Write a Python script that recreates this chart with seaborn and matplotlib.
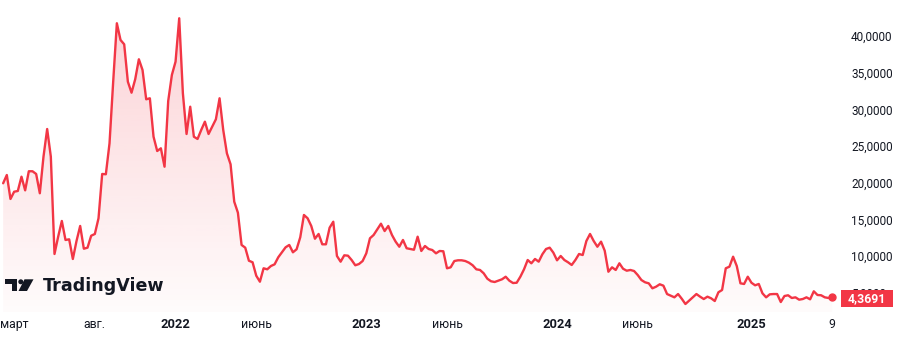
import numpy as np
import pandas as pd
import matplotlib
matplotlib.use("Agg")
import matplotlib.pyplot as plt
import matplotlib.dates as mdates
from matplotlib.colors import LinearSegmentedColormap
from matplotlib.patches import Polygon, Ellipse, Rectangle
from matplotlib.ticker import FuncFormatter
import seaborn as sns

# weekly closes, last bar dated 2025-06-09
last_date = "2025-06-09"
price = [
    19.91, 21.04, 17.77, 18.76, 18.86, 20.81, 18.95, 21.55, 21.55, 21.18,
    18.55, 23.54, 27.31, 23.54, 10.27, 12.63, 14.77, 12.18, 12.27, 9.59,
    12.04, 14.09, 10.99, 11.13, 12.76, 13.00, 15.14, 21.18, 21.14, 25.36,
    33.76, 41.73, 39.45, 38.86, 33.76, 32.26, 34.09, 36.82, 35.36, 31.36,
    31.50, 26.26, 24.31, 24.68, 22.17, 31.13, 34.68,
    36.49, 42.41, 32.18, 26.63, 30.35, 26.26, 25.95, 27.18, 28.31, 26.63,
    27.63, 28.64, 31.50, 27.18, 24.00, 22.50, 17.40, 15.90, 11.50, 11.13,
    9.35, 9.14, 7.31, 6.49, 8.32, 8.18, 8.63, 8.86, 9.82, 10.50,
    11.18, 11.50, 10.50, 10.91, 12.55, 15.59, 15.14, 14.09, 12.35, 13.00,
    11.59, 11.59, 13.85, 14.67,
    10.00, 9.22, 10.09, 10.04, 9.45, 8.73, 8.90, 9.31, 10.36, 12.41,
    12.86, 13.64, 14.40, 13.40, 14.09, 12.86, 11.95, 11.26, 12.18, 11.05,
    10.95, 10.85, 12.63, 10.68, 11.36, 10.95, 10.81, 10.36, 10.68, 10.64,
    8.32, 8.45, 9.31, 9.41, 9.41, 9.31, 9.08, 8.73, 8.18, 8.09,
    7.64, 6.90, 6.55, 6.45,
    6.63, 6.82, 7.17, 6.63, 6.31, 6.35, 7.17, 8.18, 9.45, 9.00,
    9.59, 9.22, 10.23, 10.95, 11.13, 10.45, 9.41, 10.00, 9.45, 9.14,
    8.77, 9.45, 10.27, 10.13, 12.04, 13.00, 12.04, 11.26, 11.95, 10.72,
    7.85, 8.45, 8.09, 9.00, 8.26, 7.99, 8.09, 7.95, 7.40, 6.72,
    6.41, 6.27, 5.59, 5.81, 6.14,
    5.95, 4.81, 4.58, 4.36, 4.81, 4.17, 3.45, 3.90, 4.36, 4.81,
    4.45, 4.13, 4.45, 4.23, 3.86, 5.05, 5.36, 8.32, 8.54, 9.90,
    8.63, 6.27, 6.18, 7.17, 6.35, 6.00, 6.18, 4.91, 4.36, 4.77,
    4.81, 4.81, 3.72, 4.54, 4.64, 4.27, 4.36, 4.04, 4.13, 4.36,
    4.09, 5.18, 4.68, 4.64, 4.36, 4.27, 4.3691,
]
last_label = "4,3691"

tick_dates = ["2021-03-01", "2021-08-02", "2022-01-03", "2022-06-06", "2023-01-02",
              "2023-06-05", "2024-01-01", "2024-06-03", "2025-01-06", "2025-06-09"]
tick_labels = ["март", "авг.", "2022", "июнь", "2023", "июнь", "2024", "июнь", "2025", "9"]
y_ticks = [5, 10, 15, 20, 25, 30, 35, 40]

RED = "#F23645"
TXT = "#131722"
W, H = 906, 346

dates = pd.date_range(end=last_date, periods=len(price), freq="7D")
df = pd.DataFrame({"date": dates, "price": price})

sns.set_style("white")
plt.rcParams["font.family"] = ["Roboto", "DejaVu Sans"]

fig = plt.figure(figsize=(W / 100, H / 100), dpi=100)
ax = fig.add_axes([0, 34 / H, 840 / W, 312 / H])

y_lo, y_hi = 2.36, 44.9
x_lo, x_hi = pd.Timestamp("2021-02-02"), pd.Timestamp("2025-06-24")

sns.lineplot(data=df, x="date", y="price", ax=ax, color=RED, linewidth=1.7, zorder=4)

# gradient fill under the line
poly = ax.fill_between(df["date"], df["price"], y_lo, color="none", linewidth=0)
cmap = LinearSegmentedColormap.from_list(
    "tvfill", [(242 / 255, 54 / 255, 69 / 255, 0.02), (242 / 255, 54 / 255, 69 / 255, 0.23)])
grad = np.linspace(0, 1, 256).reshape(-1, 1)
im = ax.imshow(grad, extent=[mdates.date2num(x_lo), mdates.date2num(x_hi), y_lo, y_hi],
               origin="lower", aspect="auto", cmap=cmap, zorder=2)
im.set_clip_path(poly.get_paths()[0], transform=ax.transData)

ax.plot(df["date"].iloc[-1], df["price"].iloc[-1], "o", color=RED, ms=5, zorder=5)

ax.set_xlim(x_lo, x_hi)
ax.set_ylim(y_lo, y_hi)
ax.set_xlabel("")
ax.set_ylabel("")
sns.despine(ax=ax, left=True, bottom=True, right=True, top=True)
ax.grid(False)

ax.set_xticks(pd.to_datetime(tick_dates))
ax.set_xticklabels(tick_labels)
for lab in ax.get_xticklabels():
    if lab.get_text() in ("2022", "2023", "2024", "2025"):
        lab.set_fontweight("semibold")
        lab.set_fontsize(9.3)
    else:
        lab.set_fontsize(8.8)
    lab.set_color(TXT)
ax.tick_params(axis="x", length=0, pad=4)

ax.yaxis.tick_right()
ax.set_yticks(y_ticks)
ax.yaxis.set_major_formatter(FuncFormatter(lambda v, p: f"{v:.4f}".replace(".", ",")))
ax.tick_params(axis="y", length=0, pad=8, labelsize=8.5, labelcolor=TXT)


def px(x, y):
    return (x / W, 1 - y / H)


# last price label (covers the 5,0000 tick as in the original)
fig.patches.append(Rectangle(px(841, 307), 52 / W, 17 / H, transform=fig.transFigure,
                             facecolor=RED, edgecolor="none", zorder=10))
fig.text(*px(867, 298.5), last_label, color="white", fontsize=8.8, fontweight="bold",
         ha="center", va="center", zorder=11)

# TradingView logo
fig.patches.append(Polygon([px(5, 279.3), px(17.3, 279.3), px(17.3, 291), px(11.7, 291),
                            px(11.7, 284.3), px(5, 284.3)], closed=True,
                           transform=fig.transFigure, facecolor=TXT, edgecolor="none"))
fig.patches.append(Ellipse(px(20.8, 281.8), 5 / W, 5 / H, transform=fig.transFigure,
                           facecolor=TXT, edgecolor="none"))
fig.patches.append(Polygon([px(24.5, 279.3), px(33.5, 279.3), px(27, 291), px(18.5, 291)],
                           closed=True, transform=fig.transFigure, facecolor=TXT,
                           edgecolor="none"))
fig.text(*px(42.5, 291), "TradingView", color=TXT, fontsize=12.6, fontweight="bold",
         family="DejaVu Sans", ha="left", va="baseline")

fig.savefig("out.png", dpi=100, facecolor="white")
